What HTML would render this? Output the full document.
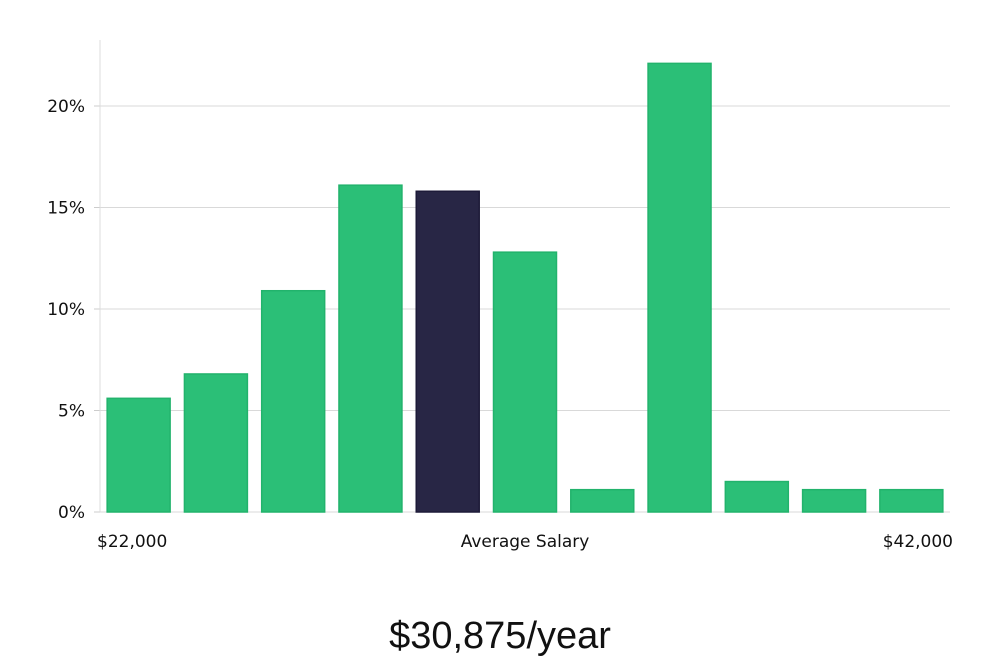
<!DOCTYPE html>
<html><head><meta charset="utf-8"><style>
body{margin:0;background:#fff;width:1000px;height:660px;overflow:hidden}
svg text{font-family:"DejaVu Sans","Liberation Sans",sans-serif;fill:#111}
</style></head><body>
<svg id="chart" width="1000" height="660" xmlns="http://www.w3.org/2000/svg"></svg>
<script>
const categories=["b1","b2","b3","b4","b5","b6","b7","b8","b9","b10","b11"];
const values=[5.6,6.8,10.9,16.1,15.8,12.8,1.1,22.1,1.5,1.1,1.1];
const highlight=[false,false,false,false,true,false,false,false,false,false,false];
const yTicks=[0,5,10,15,20];
const yTickLabels=["0%","5%","10%","15%","20%"];
const xLabels=["$22,000","Average Salary","$42,000"];
const summary="$30,875/year";

const svg=document.getElementById('chart');
const NS="http://www.w3.org/2000/svg";
const X0=100,X1=950,Y0=512,PXPER=20.3;
const y=v=>Y0-v*PXPER;
const band=(X1-X0)/categories.length;
const x=i=>X0+i*band;
function mk(t,a,parent){const e=document.createElementNS(NS,t);for(const k in a)e.setAttribute(k,a[k]);(parent||svg).appendChild(e);return e;}

yTicks.forEach((t,i)=>{
  const g=mk('line',{x1:X0,x2:X1,y1:y(t),y2:y(t),stroke:'#d9d9d9','stroke-width':1});
  
  
  const tk=mk('line',{x1:X0-6,x2:X0,y1:y(t),y2:y(t),stroke:'#ccc','stroke-width':1});
  
  
  const l=mk('text',{x:85,y:y(t)+6,'text-anchor':'end','font-size':17});
  l.textContent=yTickLabels[i];
  
  
});
const ax=mk('line',{x1:X0,x2:X0,y1:40,y2:Y0,stroke:'#ddd','stroke-width':1});



values.forEach((v,i)=>{
  const w=band*0.815;
  const r=mk('rect',{x:x(i)+(band-w)/2,y:y(v),width:w,height:Y0-y(v),
    fill:highlight[i]?'#282645':'#2bbf77',stroke:highlight[i]?'#1d1a38':'#22b36c','stroke-width':1.5});
  
  
});

[[97,'start'],[525,'middle'],[953,'end']].forEach((p,i)=>{
  const t=mk('text',{x:p[0],y:547,'text-anchor':p[1],'font-size':17});
  t.textContent=xLabels[i];
  
  
});
const s=mk('text',{x:500,y:648,'text-anchor':'middle','font-size':38,'font-weight':300,style:'font-family:"Liberation Sans",sans-serif'});
s.textContent=summary;


</script>
</body></html>
